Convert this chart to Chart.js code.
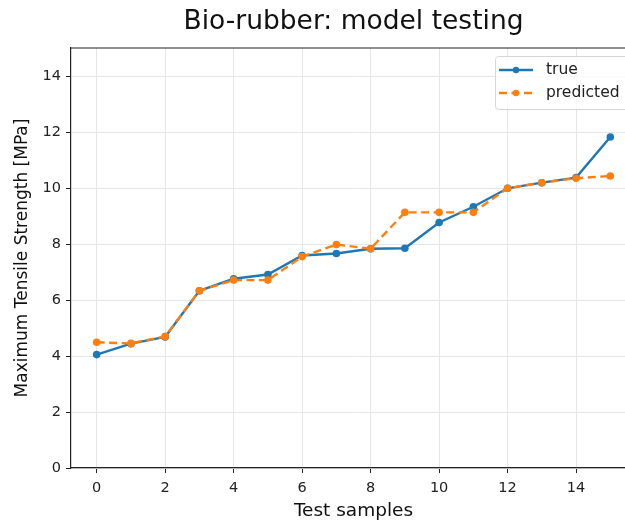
<!DOCTYPE html>
<html lang="en">
<head>
    <meta charset="UTF-8">
    <title>Bio-rubber: model testing</title>
    <script src="https://cdn.jsdelivr.net/npm/chart.js"></script>
    <style>
        * {
            margin: 0;
            padding: 0;
            box-sizing: border-box;
        }

        body {
            background: #ffffff;
            overflow: hidden;
        }

        .wrap {
            width: 625px;
            height: 524px;
            overflow: hidden;
        }
    </style>
</head>
<body>
    <div class="wrap">
        <canvas id="modelChart" width="707" height="524"></canvas>
    </div>

    <script>
        // data
        const samples = [0, 1, 2, 3, 4, 5, 6, 7, 8, 9, 10, 11, 12, 13, 14, 15];
        const trueVals = [4.05, 4.44, 4.68, 6.33, 6.76, 6.91, 7.59, 7.66, 7.83, 7.85, 8.77, 9.33, 9.99, 10.19, 10.37, 11.82];
        const predictedVals = [4.49, 4.45, 4.70, 6.33, 6.71, 6.71, 7.55, 7.98, 7.83, 9.13, 9.13, 9.13, 9.99, 10.19, 10.35, 10.43];
        const xTicks = [0, 2, 4, 6, 8, 10, 12, 14];
        const yTicks = [0, 2, 4, 6, 8, 10, 12, 14];

        const FONT = "'DejaVu Sans', sans-serif";
        const BLUE = '#1f77b4';
        const ORANGE = '#ff7f0e';

        // top/right spines (matplotlib style frame)
        const frame = {
            id: 'frame',
            afterDatasetsDraw(chart) {
                const { ctx, chartArea: a } = chart;
                ctx.save();
                ctx.strokeStyle = '#222';
                ctx.lineWidth = 1.2;
                ctx.beginPath();
                ctx.moveTo(a.left, a.top);
                ctx.lineTo(a.right, a.top);
                ctx.lineTo(a.right, a.bottom);
                ctx.stroke();
                ctx.restore();
            }
        };

        // legend box in the upper right corner of the plot
        const cornerLegend = {
            id: 'cornerLegend',
            afterDraw(chart) {
                const { ctx, chartArea: a } = chart;
                const x = a.left + 424, y = a.top + 8, w = 134, h = 53;
                ctx.save();
                ctx.fillStyle = 'rgba(255,255,255,0.8)';
                ctx.strokeStyle = '#d6d6d6';
                ctx.lineWidth = 1;
                ctx.beginPath();
                ctx.roundRect(x + 0.5, y + 0.5, w, h, 3);
                ctx.fill();
                ctx.stroke();

                ctx.font = '15.5px ' + FONT;
                ctx.textBaseline = 'middle';
                chart.data.datasets.forEach((ds, i) => {
                    const ry = y + 14 + i * 23;
                    ctx.strokeStyle = ds.borderColor;
                    ctx.lineWidth = ds.borderWidth;
                    ctx.setLineDash(ds.borderDash || []);
                    ctx.beginPath();
                    ctx.moveTo(x + 4, ry);
                    ctx.lineTo(x + 38, ry);
                    ctx.stroke();
                    ctx.setLineDash([]);
                    ctx.fillStyle = ds.borderColor;
                    ctx.beginPath();
                    ctx.arc(x + 21, ry, 3.2, 0, Math.PI * 2);
                    ctx.fill();
                    ctx.fillStyle = '#222';
                    ctx.fillText(ds.label, x + 51, ry);
                });
                ctx.restore();
            }
        };

        const ctx = document.getElementById('modelChart').getContext('2d');
        new Chart(ctx, {
            type: 'line',
            data: {
                datasets: [{
                    label: 'true',
                    data: samples.map((s, i) => ({ x: s, y: trueVals[i] })),
                    borderColor: BLUE,
                    backgroundColor: BLUE,
                    pointBackgroundColor: BLUE,
                    borderWidth: 2.4,
                    pointRadius: 3.8,
                    pointBorderWidth: 0,
                    tension: 0,
                    order: 2
                }, {
                    label: 'predicted',
                    data: samples.map((s, i) => ({ x: s, y: predictedVals[i] })),
                    borderColor: ORANGE,
                    backgroundColor: ORANGE,
                    pointBackgroundColor: ORANGE,
                    borderWidth: 2.4,
                    borderDash: [8, 4.5],
                    pointRadius: 3.8,
                    pointBorderWidth: 0,
                    tension: 0,
                    order: 1
                }]
            },
            options: {
                responsive: false,
                animation: false,
                layout: {
                    padding: 0
                },
                plugins: {
                    legend: { display: false },
                    tooltip: { enabled: false },
                    title: {
                        display: true,
                        text: 'Bio-rubber: model testing',
                        color: '#111',
                        font: { family: FONT, size: 26.5, weight: 'normal' },
                        padding: { top: 6.5, bottom: 9.7 }
                    }
                },
                scales: {
                    x: {
                        type: 'linear',
                        min: -0.75,
                        max: 15.75,
                        afterBuildTicks: s => { s.ticks = xTicks.map(v => ({ value: v })); },
                        afterFit: s => { s.height = 56; },
                        grid: {
                            color: '#e6e6e6',
                            lineWidth: 1,
                            tickColor: '#222',
                            tickLength: 5,
                            tickWidth: 1
                        },
                        border: { color: '#222', width: 1.2 },
                        ticks: {
                            color: '#222',
                            padding: 7,
                            maxRotation: 0,
                            font: { family: FONT, size: 14.5 }
                        },
                        title: {
                            display: true,
                            text: 'Test samples',
                            color: '#111',
                            font: { family: FONT, size: 18.5 },
                            padding: { top: 0, bottom: 2 }
                        }
                    },
                    y: {
                        min: 0,
                        max: 15,
                        afterBuildTicks: s => { s.ticks = yTicks.map(v => ({ value: v })); },
                        afterFit: s => { s.width = 71; },
                        grid: {
                            color: '#e6e6e6',
                            lineWidth: 1,
                            tickColor: '#222',
                            tickLength: 5,
                            tickWidth: 1
                        },
                        border: { color: '#222', width: 1.2 },
                        ticks: {
                            color: '#222',
                            padding: 5,
                            font: { family: FONT, size: 14.5 }
                        },
                        title: {
                            display: true,
                            text: 'Maximum Tensile Strength [MPa]',
                            color: '#111',
                            font: { family: FONT, size: 17 },
                            padding: { top: 12, bottom: 0 }
                        }
                    },
                    // empty right margin, keeps the title centred over the axes
                    yRight: {
                        position: 'right',
                        afterFit: s => { s.width = 71; },
                        grid: { display: false },
                        border: { display: false },
                        ticks: { display: false }
                    }
                }
            },
            plugins: [frame, cornerLegend]
        });
    </script>
</body>
</html>
